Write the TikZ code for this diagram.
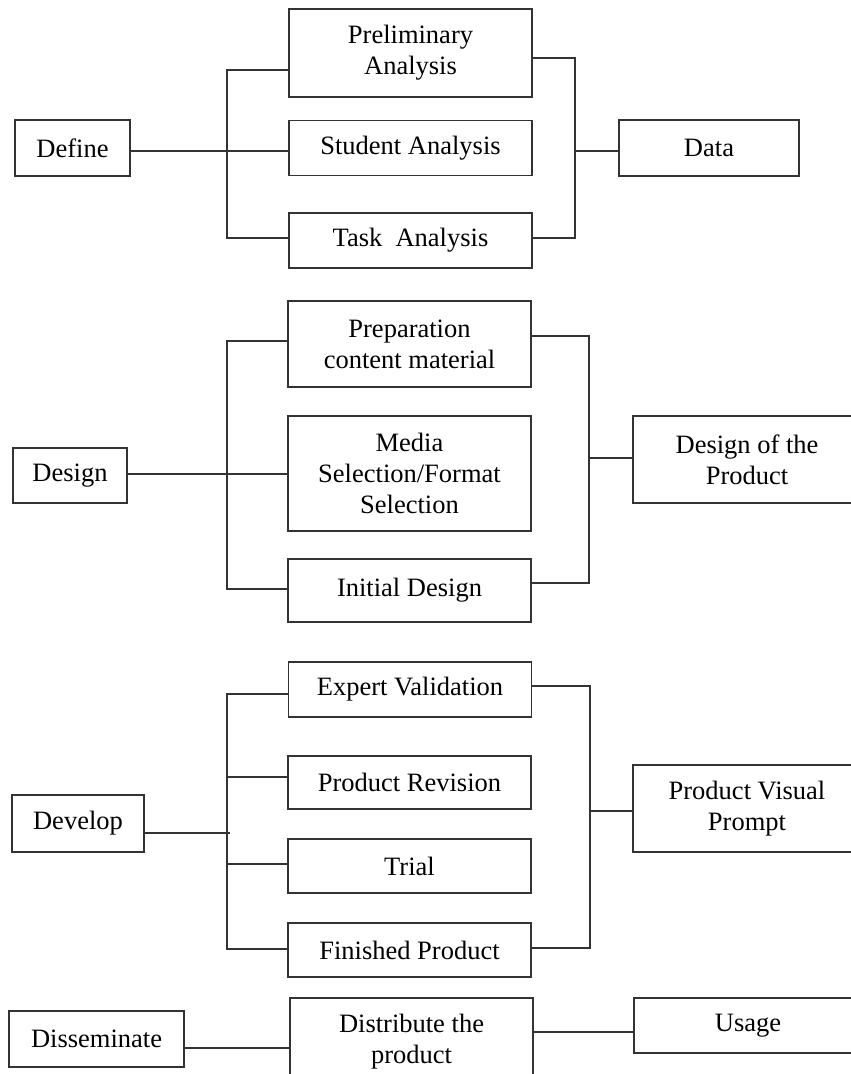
\documentclass[tikz,border=0pt]{standalone}
\usepackage{fontspec}
\setmainfont{Liberation Serif}
\begin{document}
\begin{tikzpicture}[x=1pt,y=-1pt,
    box/.style={draw=black!80, line width=1.6pt, align=center, inner sep=0pt,
                font=\fontsize{26.5}{31}\selectfont},
    link/.style={draw=black!80, line width=1.6pt}]
\useasboundingbox (0,0) rectangle (851,1074);
\clip (0,0) rectangle (851,1074);
% define
\node[box, minimum width=115, minimum height=56] (define) at (72.5,148) {Define};
\node[box, minimum width=243, minimum height=88] (prelim) at (410.5,53) {Preliminary\\Analysis};
\node[box, minimum width=243, minimum height=55] (student) at (410.5,148) {Student Analysis};
\node[box, minimum width=243, minimum height=55] (task) at (410.5,240.5) {Task\ \ Analysis};
\node[box, minimum width=180, minimum height=56] (data) at (709,148) {Data};
\coordinate (dfa) at (227,70);
\coordinate (dfm) at (227,151);
\coordinate (dfb) at (227,238);
\coordinate (dra) at (575,58);
\coordinate (drm) at (575,151);
\coordinate (drb) at (575,238);
\draw[link] (prelim.west |- dfa) -- (dfa) -- (dfb) -- (task.west |- dfb);
\draw[link] (define.east |- dfm) -- (student.west |- dfm);
\draw[link] (prelim.east |- dra) -- (dra) -- (drb) -- (task.east |- drb);
\draw[link] (drm) -- (data.west |- drm);
% design
\node[box, minimum width=114, minimum height=55] (design) at (70,475.5) {Design};
\node[box, minimum width=243, minimum height=86] (prep) at (409.5,344) {Preparation\\content material};
\node[box, minimum width=243, minimum height=115] (media) at (409.5,473.5) {Media\\Selection/Format\\Selection};
\node[box, minimum width=243, minimum height=63] (initial) at (409.5,590.5) {Initial Design};
\node[box, minimum width=228, minimum height=87] (product) at (747,459.5) {Design of the\\Product};
\coordinate (dsa) at (227,341);
\coordinate (dsm) at (227,474);
\coordinate (dsb) at (227,589);
\coordinate (dsc) at (589,336);
\coordinate (dsn) at (589,458);
\coordinate (dsd) at (589,583);
\draw[link] (prep.west |- dsa) -- (dsa) -- (dsb) -- (initial.west |- dsb);
\draw[link] (design.east |- dsm) -- (media.west |- dsm);
\draw[link] (prep.east |- dsc) -- (dsc) -- (dsd) -- (initial.east |- dsd);
\draw[link] (dsn) -- (product.west |- dsn);
% develop
\node[box, minimum width=132, minimum height=57] (develop) at (78,823.5) {Develop};
\node[box, minimum width=243, minimum height=55] (expert) at (410,689.5) {Expert Validation};
\node[box, minimum width=243, minimum height=53] (revision) at (409.5,782.5) {Product Revision};
\node[box, minimum width=243, minimum height=54] (trial) at (409.5,866) {Trial};
\node[box, minimum width=243, minimum height=54] (finished) at (409.5,950) {Finished Product};
\node[box, minimum width=228, minimum height=87] (prompt) at (747,808.5) {Product Visual\\Prompt};
\coordinate (dva) at (227,694);
\coordinate (dvr) at (227,777);
\coordinate (dvt) at (227,864);
\coordinate (dvb) at (227,949);
\coordinate (dvm) at (230,833);
\coordinate (dvc) at (590,686);
\coordinate (dvp) at (590,811);
\coordinate (dvd) at (590,948);
\draw[link] (expert.west |- dva) -- (dva) -- (dvb) -- (finished.west |- dvb);
\draw[link] (dvr) -- (revision.west |- dvr);
\draw[link] (dvt) -- (trial.west |- dvt);
\draw[link] (develop.east |- dvm) -- (dvm);
\draw[link] (expert.east |- dvc) -- (dvc) -- (dvd) -- (finished.east |- dvd);
\draw[link] (dvp) -- (prompt.west |- dvp);
% disseminate
\node[box, minimum width=175, minimum height=56] (dissem) at (96.5,1039) {Disseminate};
\node[box, minimum width=243, minimum height=88] (distribute) at (411.5,1042) {Distribute the\\product};
\node[box, minimum width=228, minimum height=55] (usage) at (748,1025.5) {Usage};
\coordinate (dma) at (0,1048);
\coordinate (dmb) at (0,1032);
\draw[link] (dissem.east |- dma) -- (distribute.west |- dma);
\draw[link] (distribute.east |- dmb) -- (usage.west |- dmb);
\end{tikzpicture}
\end{document}
